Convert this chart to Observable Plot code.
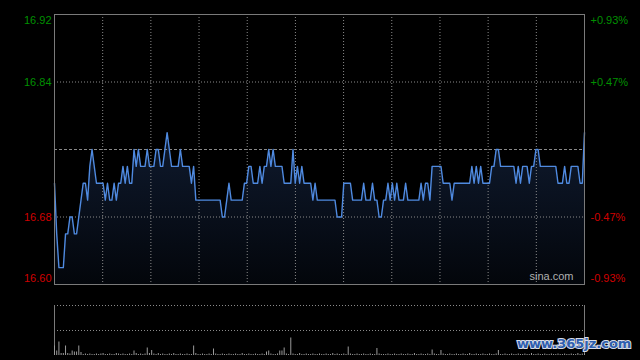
<!DOCTYPE html>
<html>
<head>
<meta charset="utf-8">
<script src="https://cdn.jsdelivr.net/npm/d3@7"></script>
<script src="https://cdn.jsdelivr.net/npm/@observablehq/plot@0.6"></script>
<style>
  html, body { margin: 0; padding: 0; background: #000; width: 640px; height: 360px; overflow: hidden; }
  #wrap { position: relative; width: 640px; height: 360px; background: #000; }
  #main, #vol { position: absolute; left: 0; }
  #main { top: 0; }
  #vol { top: 290px; }
  #wm { position: absolute; left: 517px; top: 336px; font: bold 13px "DejaVu Sans", sans-serif;
        color: #2f5faf; -webkit-text-stroke: 2px #d8dde8; paint-order: stroke fill; letter-spacing: 0px; }
</style>
</head>
<body>
<div id="wrap">
  <div id="main"></div>
  <div id="vol"></div>
  <div id="wm">www.365jz.com</div>
</div>
<script>
// ---- data ----
const prevClose = 16.76;
const leftTicks = [16.92, 16.84, 16.68, 16.60];
const rightTickLabels = ["+0.93%", "+0.47%", "-0.47%", "-0.93%"];
const priceDomain = [16.60, 16.92];

// one price per trading minute (241 minutes)
const prices = [
  16.72,16.66,16.62,16.62,16.62,16.66,16.66,16.68,16.68,16.66,
  16.66,16.68,16.70,16.72,16.72,16.70,16.74,16.76,16.74,16.72,
  16.72,16.72,16.72,16.70,16.72,16.70,16.70,16.72,16.70,16.72,
  16.72,16.74,16.72,16.74,16.72,16.72,16.76,16.74,16.76,16.74,
  16.74,16.74,16.76,16.74,16.74,16.74,16.76,16.76,16.74,16.74,
  16.76,16.78,16.76,16.74,16.74,16.74,16.74,16.76,16.74,16.74,
  16.74,16.74,16.72,16.74,16.70,16.70,16.70,16.70,16.70,16.70,
  16.70,16.70,16.70,16.70,16.70,16.70,16.68,16.68,16.70,16.72,
  16.70,16.70,16.70,16.70,16.70,16.70,16.72,16.72,16.74,16.74,
  16.72,16.72,16.72,16.74,16.72,16.74,16.74,16.76,16.74,16.76,
  16.74,16.74,16.74,16.74,16.72,16.72,16.72,16.72,16.76,16.72,
  16.74,16.72,16.74,16.72,16.72,16.72,16.72,16.70,16.72,16.70,
  16.70,16.70,16.70,16.70,16.70,16.70,16.70,16.70,16.68,16.68,
  16.68,16.72,16.72,16.72,16.72,16.70,16.70,16.70,16.70,16.70,
  16.72,16.70,16.70,16.70,16.72,16.70,16.70,16.68,16.68,16.70,
  16.70,16.72,16.70,16.72,16.70,16.72,16.70,16.70,16.70,16.72,
  16.70,16.70,16.70,16.70,16.70,16.70,16.72,16.70,16.72,16.72,
  16.70,16.74,16.74,16.74,16.74,16.74,16.72,16.72,16.72,16.72,
  16.70,16.72,16.72,16.72,16.72,16.72,16.72,16.72,16.72,16.74,
  16.72,16.74,16.72,16.74,16.72,16.72,16.72,16.72,16.74,16.74,
  16.76,16.76,16.74,16.74,16.74,16.74,16.74,16.74,16.74,16.72,
  16.74,16.72,16.74,16.74,16.74,16.72,16.74,16.74,16.76,16.76,
  16.74,16.74,16.74,16.74,16.74,16.74,16.74,16.74,16.72,16.72,
  16.72,16.74,16.72,16.72,16.74,16.74,16.74,16.74,16.72,16.72,
  16.78
];

// volume per minute (relative units, panel top = 100)
const volumes = [
  19,9,27,4,4,19,4,3,9,7,
  7,19,6,2,3,2,3,2,2,3,
  2,3,4,2,2,3,2,2,4,3,
  2,3,2,2,3,2,9,4,2,3,
  2,3,15,4,10,3,2,4,2,3,
  2,2,3,2,4,2,2,3,2,2,
  3,2,2,19,4,2,2,3,2,2,
  3,2,13,3,2,2,3,2,2,3,
  2,2,3,2,2,4,2,2,3,2,
  2,3,2,2,3,2,7,9,3,2,
  2,3,9,9,15,3,2,35,3,2,
  2,4,2,2,3,2,2,3,2,2,
  3,2,2,3,2,2,4,2,3,2,
  2,3,2,17,3,2,2,3,2,2,
  3,2,2,3,2,2,14,3,2,2,
  2,3,2,2,3,2,2,3,2,2,
  3,2,2,4,2,2,3,2,2,3,
  2,11,3,2,2,10,3,2,2,3,
  2,2,3,2,2,3,2,2,4,2,
  2,3,2,2,3,2,2,3,2,2,
  3,10,2,2,3,2,2,3,2,2,
  3,2,2,3,2,2,4,2,2,3,
  2,2,3,2,2,3,2,2,3,2,
  2,3,2,2,3,2,2,4,2,3,
  3
];

const volDomain = [0, 100];
const volGrid = [50, 100];
const sourceLabel = "sina.com";

// ---- build tables ----
const series = prices.map((p, i) => ({i, p}));
const volSeries = volumes.map((v, i) => ({i, v}));
const lastMinute = prices.length - 1;
const nGrid = 11;
const gridX = d3.range(1, nGrid).map(k => k * lastMinute / nGrid);
const leftLab = leftTicks.map((v, k) => ({v, label: v.toFixed(2), pct: rightTickLabels[k]}));
const up = "#009000", down = "#d00000";
const labDy = d => d.v === priceDomain[1] ? 6 : d.v === priceDomain[0] ? -6 : 0;

const W = 640, MH = 290, ML = 54, MR = 56;

const main = Plot.plot({
  width: W, height: MH,
  marginLeft: ML, marginRight: MR, marginTop: 14, marginBottom: 6,
  style: {background: "#000", overflow: "visible"},
  x: {domain: [0, lastMinute], axis: null},
  y: {domain: priceDomain, axis: null},
  marks: [
    Plot.areaY(series, {x: "i", y1: priceDomain[0], y2: "p", fill: "url(#pg)"}),
    Plot.ruleX(gridX, {stroke: "#8a8a8a", strokeDasharray: "1,2", strokeWidth: 1}),
    Plot.ruleY([leftTicks[1], leftTicks[2]], {stroke: "#8a8a8a", strokeDasharray: "1,2", strokeWidth: 1}),
    Plot.ruleY([prevClose], {stroke: "#8a8a8a", strokeDasharray: "3,2", strokeWidth: 1}),
    Plot.line(series, {x: "i", y: "p", stroke: "#4f8ae0", strokeWidth: 1.4}),
    Plot.frame({stroke: "#7a7a7a"}),
    ...leftLab.map(d => Plot.text([d], {
      x: 0, y: "v", text: "label", textAnchor: "end", dx: -3, dy: labDy(d),
      fill: d.v > prevClose ? up : down, fontSize: 11, fontFamily: "Liberation Sans, Arial, sans-serif"
    })),
    ...leftLab.map(d => Plot.text([d], {
      x: lastMinute, y: "v", text: "pct", textAnchor: "start", dx: 6, dy: labDy(d),
      fill: d.v > prevClose ? up : down, fontSize: 11, fontFamily: "Liberation Sans, Arial, sans-serif"
    })),
    Plot.text([sourceLabel], {frameAnchor: "bottom-right", dx: -11, dy: -5, fill: "#b0b0b0",
      fontSize: 11, fontFamily: "Liberation Sans, Arial, sans-serif"})
  ]
});
d3.select(main).insert("defs", ":first-child").html(
  `<linearGradient id="pg" x1="0" y1="0" x2="0" y2="1">
     <stop offset="0" stop-color="#0f1a2e"/>
     <stop offset="1" stop-color="#03060b"/>
   </linearGradient>`);
document.getElementById("main").appendChild(main);

const vol = Plot.plot({
  width: W, height: 70,
  marginLeft: ML, marginRight: MR, marginTop: 15, marginBottom: 5,
  style: {background: "transparent", overflow: "visible"},
  x: {domain: [0, lastMinute], axis: null},
  y: {domain: volDomain, axis: null},
  marks: [
    Plot.ruleY(volGrid, {stroke: "#8a8a8a", strokeDasharray: "1,2", strokeWidth: 1}),
    Plot.ruleX([0, lastMinute], {y1: volDomain[0], y2: volDomain[1], stroke: "#7a7a7a"}),
    Plot.ruleX(volSeries, {x: "i", y1: 0, y2: "v", stroke: "#9a9a9a", strokeWidth: 1})
  ]
});
document.getElementById("vol").appendChild(vol);
</script>
</body>
</html>
